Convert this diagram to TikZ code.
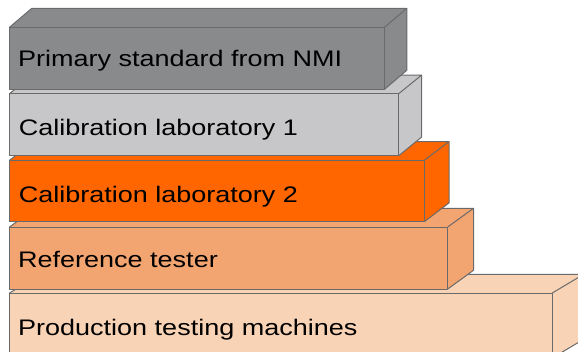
\documentclass[tikz,border=0pt]{standalone}
\usepackage{fontspec}
\newfontfamily\labfont[FakeStretch=1.2]{Liberation Sans}
\definecolor{cA}{HTML}{898A8C}
\definecolor{cB}{HTML}{C7C7C9}
\definecolor{cC}{HTML}{FF6600}
\definecolor{cD}{HTML}{F2A571}
\definecolor{cE}{HTML}{F9D3B5}
\definecolor{edge}{HTML}{6A6A6A}
% #1 colour, #2 left, #3 top, #4 right, #5 bottom, #6 dx, #7 dy
\newcommand{\slab}[7]{%
  \fill[#1] (#2,#3) -- ++(#6,#7) -- ($(#4,#3)+(#6,#7)$) -- ($(#4,#5)+(#6,#7)$) -- (#4,#5) -- (#2,#5) -- cycle;
  \draw[facedge] (#2,#3) rectangle (#4,#5);
  \draw[facedge] (#2,#3) -- ++(#6,#7) -- ($(#4,#3)+(#6,#7)$) -- (#4,#3);
  \draw[facedge] ($(#4,#3)+(#6,#7)$) -- ($(#4,#5)+(#6,#7)$) -- (#4,#5);
}
\usetikzlibrary{calc}
\begin{document}
\begin{tikzpicture}[x=1pt,y=-1pt,
  facedge/.style={draw=edge,line width=1pt,line join=round},
  lab/.style={anchor=base west,inner sep=0pt,font=\labfont\fontsize{22.5}{27}\selectfont,text=black}]
\useasboundingbox (0,0) rectangle (578,351);
\begin{scope}
\clip (0,0) rectangle (578,351);
\slab{cE}{9.5}{293}{552.3}{358}{31.3}{-18.7}
\slab{cD}{9.5}{227}{447.7}{289}{25.8}{-18.7}
\slab{cC}{9.5}{160.3}{424.3}{221.7}{24.7}{-18.8}
\slab{cB}{9.5}{93.7}{398.7}{155.7}{23}{-18.7}
\slab{cA}{9.5}{27.3}{384.5}{89.3}{22.3}{-19}
\end{scope}
\node[lab] (t1) at (18,66) {Primary standard from NMI};
\node[lab] (t2) at (18.6,135.3) {Calibration laboratory 1};
\node[lab] (t3) at (18.6,202.7) {Calibration laboratory 2};
\node[lab] (t4) at (18,267) {Reference tester};
\node[lab] (t5) at (18,335) {Production testing machines};
\end{tikzpicture}
\end{document}
